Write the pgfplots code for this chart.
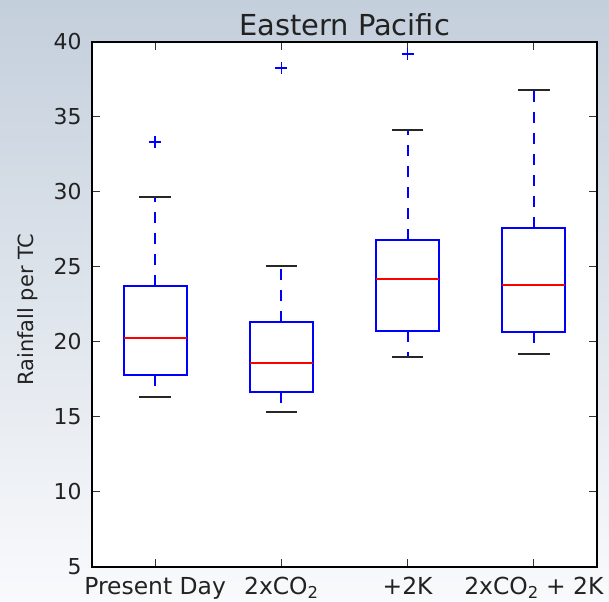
\documentclass[border=0pt]{standalone}
\usepackage{fontspec}
\setmainfont{DejaVu Sans}
\usepackage{pgfplots}
\pgfplotsset{compat=1.18}

\definecolor{txt}{RGB}{34 34 34}
\definecolor{bgtop}{RGB}{196 207 220}
\definecolor{bgbot}{RGB}{249 250 252}

\pgfplotsset{
  boxst/.style={draw=blue, line width=2bp, line join=miter},
  medst/.style={draw=red, line width=2bp},
  whisk/.style={draw=blue, line width=2.2bp, dash pattern=on 11bp off 10bp},
  capst/.style={draw=black!85, line width=2.2bp},
}

\begin{document}
\begin{tikzpicture}
\shade[top color=bgtop, bottom color=bgbot] (0,0) rectangle (609bp,602bp);
\fill[white] (92bp,35bp) rectangle (597bp,560bp);
\begin{axis}[
    at={(92bp,35bp)}, anchor=south west,
    scale only axis, width=505bp, height=525bp,
    clip=false,
    xmin=0.5, xmax=4.5, ymin=5, ymax=40,
    xtick={1,2,3,4},
    xticklabels={Present Day, 2xCO\textsubscript{2}, +2K, 2xCO\textsubscript{2} + 2K},
    ytick={5,10,...,40},
    tick align=inside,
    major tick length=8bp,
    tick style={black!80, line width=1bp},
    axis line style={black, line width=1.5bp},
    /pgf/number format/assume math mode=true,
    tick label style={text=txt},
    yticklabel style={font=\fontsize{22}{24}\selectfont, xshift=-7bp},
    xticklabel style={font=\fontsize{23.5}{26}\selectfont, yshift=-7bp},
    title={Eastern Pacific},
    title style={font=\fontsize{29}{32}\selectfont, text=txt,
      at={(axis description cs:0.5,1)}, anchor=base, yshift=1bp},
    ylabel={Rainfall per TC},
    ylabel style={font=\fontsize{21}{24}\selectfont, text=txt,
      at={(axis description cs:0,0.5)}, anchor=center, rotate=0,
      yshift=64bp, xshift=-5bp},
  ]
% whiskers
\addplot[whisk] coordinates {(1,23.73) (1,29.67)};
\addplot[whisk] coordinates {(1,17.8) (1,16.33)};
\addplot[whisk] coordinates {(2,21.33) (2,25.07)};
\addplot[whisk] coordinates {(2,16.67) (2,15.33)};
\addplot[whisk] coordinates {(3,26.8) (3,34.13)};
\addplot[whisk] coordinates {(3,20.73) (3,19.0)};
\addplot[whisk] coordinates {(4,27.6) (4,36.8)};
\addplot[whisk] coordinates {(4,20.67) (4,19.2)};
% caps
\addplot[capst] coordinates {(0.875,29.67) (1.125,29.67)};
\addplot[capst] coordinates {(0.875,16.33) (1.125,16.33)};
\addplot[capst] coordinates {(1.875,25.07) (2.125,25.07)};
\addplot[capst] coordinates {(1.875,15.33) (2.125,15.33)};
\addplot[capst] coordinates {(2.875,34.13) (3.125,34.13)};
\addplot[capst] coordinates {(2.875,19.0) (3.125,19.0)};
\addplot[capst] coordinates {(3.875,36.8) (4.125,36.8)};
\addplot[capst] coordinates {(3.875,19.2) (4.125,19.2)};
% boxes (lower quartile to upper quartile)
\addplot[boxst] coordinates {(0.75,17.8) (1.25,17.8) (1.25,23.73) (0.75,23.73) (0.75,17.8) (1.25,17.8)};
\addplot[boxst] coordinates {(1.75,16.67) (2.25,16.67) (2.25,21.33) (1.75,21.33) (1.75,16.67) (2.25,16.67)};
\addplot[boxst] coordinates {(2.75,20.73) (3.25,20.73) (3.25,26.8) (2.75,26.8) (2.75,20.73) (3.25,20.73)};
\addplot[boxst] coordinates {(3.75,20.67) (4.25,20.67) (4.25,27.6) (3.75,27.6) (3.75,20.67) (4.25,20.67)};
% medians
\addplot[medst] coordinates {(0.75,20.27) (1.25,20.27)};
\addplot[medst] coordinates {(1.75,18.6) (2.25,18.6)};
\addplot[medst] coordinates {(2.75,24.2) (3.25,24.2)};
\addplot[medst] coordinates {(3.75,23.8) (4.25,23.8)};
% outliers
\addplot[only marks, mark=+, mark size=6bp,
  mark options={draw=blue, line width=1.4bp}] coordinates {
  (1,33.33) (2,38.27) (3,39.2)
};
\end{axis}
\pgfresetboundingbox
\path (0,0) rectangle (609bp,602bp);
\end{tikzpicture}
\end{document}
